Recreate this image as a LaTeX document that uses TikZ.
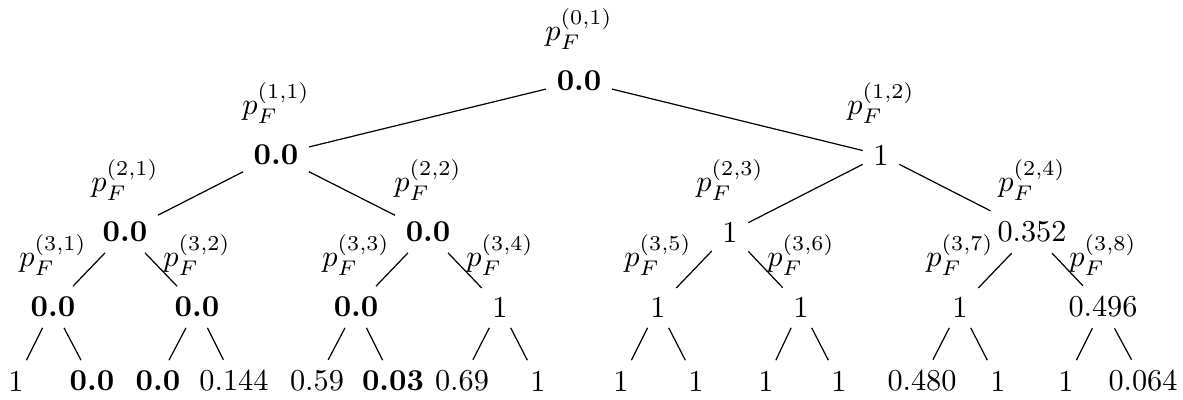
\documentclass[tikz,border=0pt]{standalone}
\usepackage{amsmath}
\usepackage{tikz}
\usetikzlibrary{positioning}

\begin{document}
\begin{tikzpicture}[
  x=0.33pt, y=-0.33pt,
  val/.style={inner sep=0.3333em},
  zero/.style={val, font=\bfseries},
  branch/.style={black, line width=0.4pt}
]
\useasboundingbox (0,0) rectangle (1183,399);

% Root and level 1
\node[zero, label=above:{$p_F^{(0,1)}$}] (r) at (579, 81) {0.0};
\node[zero, label=above:{$p_F^{(1,1)}$}] (a1) at (276, 155) {0.0};
\node[val, label=above:{$p_F^{(1,2)}$}] (a2) at (881, 155) {1};

% Level 2
\node[zero, label=above:{$p_F^{(2,1)}$}] (b1) at (125, 232) {0.0};
\node[zero, label=above:{$p_F^{(2,2)}$}] (b2) at (428, 232) {0.0};
\node[val, label=above:{$p_F^{(2,3)}$}] (b3) at (730, 232) {1};
\node[val, label=above:{$p_F^{(2,4)}$}] (b4) at (1032, 232) {0.352};

% Level 3
\node[zero, label=above:{$p_F^{(3,1)}$}] (c1) at (53, 307) {0.0};
\node[zero, label=above:{$p_F^{(3,2)}$}] (c2) at (197, 307) {0.0};
\node[zero, label=above:{$p_F^{(3,3)}$}] (c3) at (356, 307) {0.0};
\node[val, label=above:{$p_F^{(3,4)}$}] (c4) at (500, 307) {1};
\node[val, label=above:{$p_F^{(3,5)}$}] (c5) at (658, 307) {1};
\node[val, label=above:{$p_F^{(3,6)}$}] (c6) at (801, 307) {1};
\node[val, label=above:{$p_F^{(3,7)}$}] (c7) at (960, 307) {1};
\node[val, label=above:{$p_F^{(3,8)}$}] (c8) at (1103, 307) {0.496};

% Leaves
\node[val] (l1) at (16, 381) {1};
\node[zero] (l2) at (92, 381) {0.0};
\node[zero] (l3) at (158, 381) {0.0};
\node[val] (l4) at (234, 381) {0.144};
\node[val] (l5) at (317, 381) {0.59};
\node[zero] (l6) at (393, 381) {0.03};
\node[val] (l7) at (462, 381) {0.69};
\node[val] (l8) at (538, 381) {1};
\node[val] (l9) at (621, 381) {1};
\node[val] (l10) at (696, 381) {1};
\node[val] (l11) at (766, 381) {1};
\node[val] (l12) at (839, 381) {1};
\node[val] (l13) at (922, 381) {0.480};
\node[val] (l14) at (998, 381) {1};
\node[val] (l15) at (1066, 381) {1};
\node[val] (l16) at (1143, 381) {0.064};

% Branches
\draw[branch] (r) -- (a1);
\draw[branch] (r) -- (a2);
\draw[branch] (a1) -- (b1);
\draw[branch] (a1) -- (b2);
\draw[branch] (a2) -- (b3);
\draw[branch] (a2) -- (b4);
\foreach \p/\k in {1/1, 2/3, 3/5, 4/7} {
  \pgfmathtruncatemacro{\kk}{\k+1}
  \draw[branch] (b\p) -- (c\k);
  \draw[branch] (b\p) -- (c\kk);
}
\foreach \p/\k in {1/1, 2/3, 3/5, 4/7, 5/9, 6/11, 7/13, 8/15} {
  \pgfmathtruncatemacro{\kk}{\k+1}
  \draw[branch] (c\p) -- (l\k);
  \draw[branch] (c\p) -- (l\kk);
}

\end{tikzpicture}
\end{document}
